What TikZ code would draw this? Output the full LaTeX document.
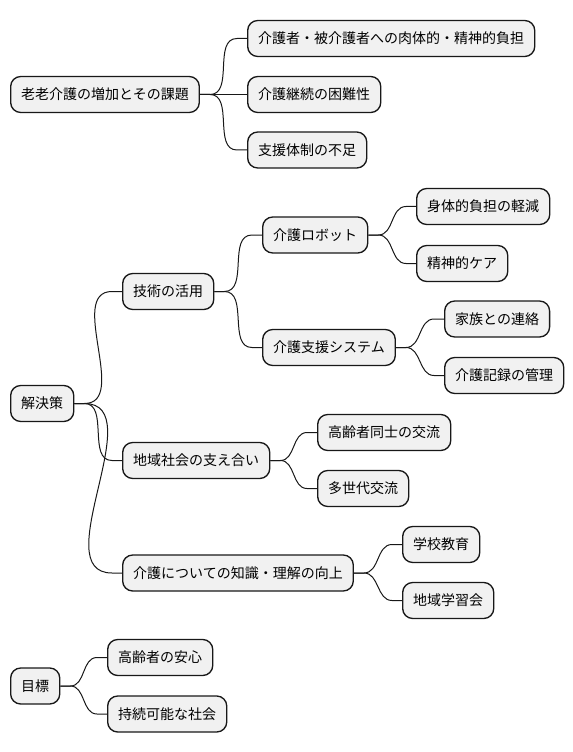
\documentclass[tikz,border=0pt]{standalone}
\usepackage{fontspec}
\usepackage{tikz}
\usetikzlibrary{calc}
\newfontfamily\jpfont{Noto Sans CJK JP}
\definecolor{mmfill}{RGB}{241,241,241}
\definecolor{mmline}{RGB}{24,24,24}

\begin{document}
\begin{tikzpicture}[x=0.75pt, y=-0.75pt,
  every node/.style={font=\jpfont\fontsize{10.5}{13}\selectfont},
  mmbox/.style={draw=mmline, line width=1pt, fill=mmfill, rounded corners=7.5pt, minimum height=27pt, inner xsep=7.9pt, anchor=west},
  mmlink/.style={draw=mmline, line width=0.75pt}]
\useasboundingbox (0,0) rectangle (572,752);

% group 1
\node[mmbox] (issue) at (10,94.5) {老老介護の増加とその課題};
\node[mmbox] (burden) at (247,38.5) {介護者・被介護者への肉体的・精神的負担};
\node[mmbox] (cont) at (247,94.5) {介護継続の困難性};
\node[mmbox] (support) at (247,150) {支援体制の不足};

% group 2
\node[mmbox] (sol) at (10,403.5) {解決策};
\node[mmbox] (tech) at (122,291.5) {技術の活用};
\node[mmbox] (robot) at (262,235) {介護ロボット};
\node[mmbox] (body) at (416,206.5) {身体的負担の軽減};
\node[mmbox] (mental) at (416,263.5) {精神的ケア};
\node[mmbox] (sys) at (262,347.5) {介護支援システム};
\node[mmbox] (family) at (444,319) {家族との連絡};
\node[mmbox] (record) at (444,375.5) {介護記録の管理};
\node[mmbox] (comm) at (122,460.5) {地域社会の支え合い};
\node[mmbox] (elder) at (317,432.5) {高齢者同士の交流};
\node[mmbox] (multi) at (317,488.5) {多世代交流};
\node[mmbox] (know) at (122,573) {介護についての知識・理解の向上};
\node[mmbox] (school) at (402,544.5) {学校教育};
\node[mmbox] (local) at (402,600.5) {地域学習会};

% group 3
\node[mmbox] (goal) at (10,686) {目標};
\node[mmbox] (safe) at (107,657.5) {高齢者の安心};
\node[mmbox] (sust) at (107,714) {持続可能な社会};

% branches
\draw[mmlink] (issue.east) -- ++(10,0) to[out=0,in=180] ($(burden.west)+(-10,0)$) -- (burden.west);
\draw[mmlink] (issue.east) -- (cont.west);
\draw[mmlink] (issue.east) -- ++(10,0) to[out=0,in=180] ($(support.west)+(-10,0)$) -- (support.west);

\draw[mmlink] (sol.east) -- ++(10,0) to[out=0,in=180] ($(tech.west)+(-10,0)$) -- (tech.west);
\draw[mmlink] (sol.east) -- ++(10,0) to[out=0,in=180] ($(comm.west)+(-10,0)$) -- (comm.west);
\draw[mmlink] (sol.east) -- ++(10,0) to[out=0,in=180] ($(know.west)+(-10,0)$) -- (know.west);
\draw[mmlink] (tech.east) -- ++(10,0) to[out=0,in=180] ($(robot.west)+(-10,0)$) -- (robot.west);
\draw[mmlink] (tech.east) -- ++(10,0) to[out=0,in=180] ($(sys.west)+(-10,0)$) -- (sys.west);
\draw[mmlink] (robot.east) -- ++(10,0) to[out=0,in=180] ($(body.west)+(-10,0)$) -- (body.west);
\draw[mmlink] (robot.east) -- ++(10,0) to[out=0,in=180] ($(mental.west)+(-10,0)$) -- (mental.west);
\draw[mmlink] (sys.east) -- ++(10,0) to[out=0,in=180] ($(family.west)+(-10,0)$) -- (family.west);
\draw[mmlink] (sys.east) -- ++(10,0) to[out=0,in=180] ($(record.west)+(-10,0)$) -- (record.west);
\draw[mmlink] (comm.east) -- ++(10,0) to[out=0,in=180] ($(elder.west)+(-10,0)$) -- (elder.west);
\draw[mmlink] (comm.east) -- ++(10,0) to[out=0,in=180] ($(multi.west)+(-10,0)$) -- (multi.west);
\draw[mmlink] (know.east) -- ++(10,0) to[out=0,in=180] ($(school.west)+(-10,0)$) -- (school.west);
\draw[mmlink] (know.east) -- ++(10,0) to[out=0,in=180] ($(local.west)+(-10,0)$) -- (local.west);

\draw[mmlink] (goal.east) -- ++(10,0) to[out=0,in=180] ($(safe.west)+(-10,0)$) -- (safe.west);
\draw[mmlink] (goal.east) -- ++(10,0) to[out=0,in=180] ($(sust.west)+(-10,0)$) -- (sust.west);
\end{tikzpicture}
\end{document}
